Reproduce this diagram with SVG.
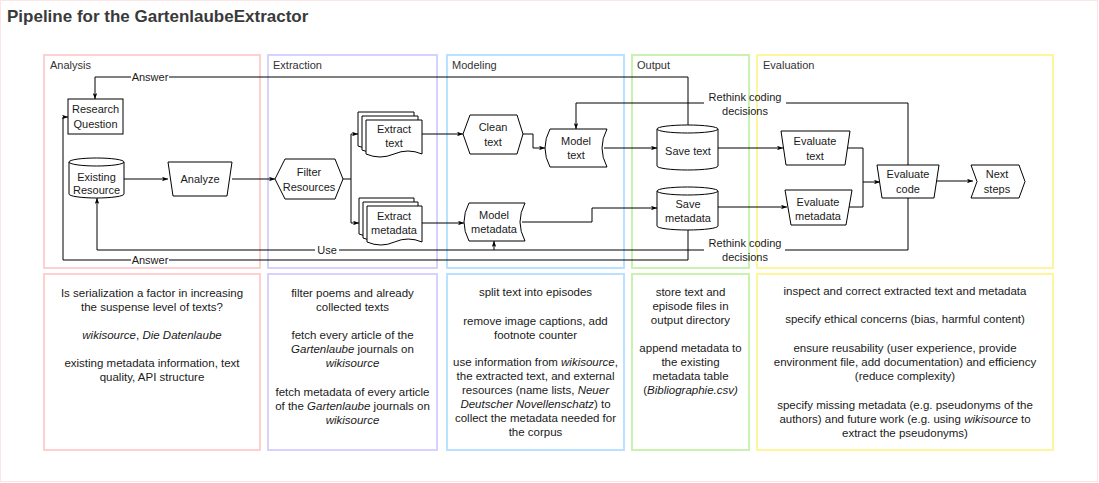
<svg xmlns="http://www.w3.org/2000/svg" width="1099" height="483" viewBox="0 0 1099 483">
<defs>
<marker id="arr" viewBox="0 0 8 6" markerWidth="6" markerHeight="4.5" refX="8" refY="3" orient="auto" markerUnits="userSpaceOnUse">
<path d="M0,0 L8,3 L0,6 L2,3 Z" fill="#000"/>
</marker>
<path id="doc56" d="M0,0 H56 V34 Q42,28 28,34 Q14,40 0,34 Z"/>
<path id="doc55" d="M0,0 H55 V36 Q41,30 27.5,36 Q14,42 0,36 Z"/>
</defs>
<style>
text{font-family:"Liberation Sans",Arial,sans-serif;fill:#1a1a1a}
.title{font-size:17px;font-weight:bold;fill:#3a3a3a}
.lane{font-size:11px;fill:#333}
.n{font-size:11px;text-anchor:middle}
.d{font-size:11.5px;text-anchor:middle}
.e{font-size:11px;text-anchor:middle}
.sh{fill:#fff;stroke:#000;stroke-width:1}
.c{fill:none;stroke:#000;stroke-width:1}
.ca{fill:none;stroke:#000;stroke-width:1;marker-end:url(#arr)}
.box{fill:none;stroke-width:2}
.lb{fill:#fff}
</style>
<rect x="0.5" y="0.5" width="1097" height="481" fill="#fff" stroke="#fbe6e6"/>
<text class="title" x="7" y="22">Pipeline for the GartenlaubeExtractor</text>

<g id="lanes">
<rect class="box" x="44" y="55" width="216" height="213" stroke="#ffd0d0"/>
<rect class="box" x="268" y="55" width="169" height="213" stroke="#d6d2ff"/>
<rect class="box" x="447" y="55" width="177" height="213" stroke="#b8e2ff"/>
<rect class="box" x="632" y="55" width="117" height="213" stroke="#c8f2ad"/>
<rect class="box" x="757" y="55" width="296" height="213" stroke="#fff59a"/>
<text class="lane" x="50" y="69">Analysis</text>
<text class="lane" x="273" y="69">Extraction</text>
<text class="lane" x="452" y="69">Modeling</text>
<text class="lane" x="637" y="69">Output</text>
<text class="lane" x="763" y="69">Evaluation</text>
</g>

<g id="connectors">
<path class="ca" d="M124,179 H168"/>
<path class="ca" d="M232,179 H275"/>
<path class="ca" d="M343,179 H351 V134 H358"/>
<path class="ca" d="M351,179 V223 H359"/>
<path class="ca" d="M422,134 H463"/>
<path class="ca" d="M523,134 H533 V148 H545"/>
<path class="ca" d="M422,223 H464"/>
<path class="ca" d="M604,148 H657"/>
<path class="ca" d="M522,222 H592 V208 H657"/>
<path class="ca" d="M718,148 H783"/>
<path class="ca" d="M718,207 H787"/>
<path class="c" d="M848,148 H863 V207 H849"/>
<path class="ca" d="M863,182 H880"/>
<path class="ca" d="M936,181 H973"/>
<path class="c" d="M908,165 V103 H786"/>
<path class="ca" d="M704,103 H576 V129"/>
<path class="c" d="M908,198 V250 H785"/>
<path class="ca" d="M704,250 H494 V241"/>
<path class="ca" d="M494,250 H97 V198"/>
<path class="ca" d="M688,125 V77 H95 V99"/>
<path class="ca" d="M688,230 V260 H63 V117 H68"/>
<rect class="lb" x="131" y="71" width="38" height="12"/>
<text class="e" x="150" y="81">Answer</text>
<rect class="lb" x="131" y="254" width="38" height="12"/>
<text class="e" x="150" y="264">Answer</text>
<rect class="lb" x="315" y="244" width="24" height="12"/>
<text class="e" x="327" y="254">Use</text>
<text class="e" x="745" y="101">Rethink coding</text>
<text class="e" x="745" y="115">decisions</text>
<text class="e" x="745" y="247">Rethink coding</text>
<text class="e" x="745" y="261">decisions</text>
</g>

<g id="research-question">
<rect class="sh" x="68" y="99" width="55" height="35"/>
<text class="n" x="95.5" y="113">Research</text>
<text class="n" x="95.5" y="128">Question</text>
</g>

<g id="existing-resource">
<path class="sh" d="M69,162 A27.5,4 0 0 1 124,162 V194 A27.5,4 0 0 1 69,194 Z"/>
<path class="c" d="M69,162 A27.5,4 0 0 0 124,162"/>
<text class="n" x="96.5" y="180.5">Existing</text>
<text class="n" x="96.5" y="194">Resource</text>
</g>

<g id="analyze">
<path class="sh" d="M168,162 H232 L227,196 H173 Z"/>
<text class="n" x="200" y="183">Analyze</text>
</g>

<g id="filter-resources">
<path class="sh" d="M275,179 L285,159 H335 L343,179 L335,199 H285 Z"/>
<text class="n" x="309" y="176">Filter</text>
<text class="n" x="309" y="190.5">Resources</text>
</g>

<g id="extract-text">
<use href="#doc56" class="sh" x="358" y="112"/>
<use href="#doc56" class="sh" x="362" y="116"/>
<use href="#doc56" class="sh" x="366" y="120"/>
<text class="n" x="394" y="133">Extract</text>
<text class="n" x="394" y="147">text</text>
</g>

<g id="extract-metadata">
<use href="#doc55" class="sh" x="359" y="198"/>
<use href="#doc55" class="sh" x="363" y="202"/>
<use href="#doc55" class="sh" x="367" y="206"/>
<text class="n" x="394" y="219.5">Extract</text>
<text class="n" x="394" y="234">metadata</text>
</g>

<g id="clean-text">
<path class="sh" d="M463,134 L470,115 H517 L523,134 L517,154 H470 Z"/>
<text class="n" x="493" y="131">Clean</text>
<text class="n" x="493" y="146">text</text>
</g>

<g id="model-text">
<path class="sh" d="M550,129 H607 Q597,148 607,167 H550 Q540,148 550,129 Z"/>
<text class="n" x="576" y="145">Model</text>
<text class="n" x="576" y="159">text</text>
</g>

<g id="model-metadata">
<path class="sh" d="M469,203 H525 Q515,222 525,241 H469 Q459,222 469,203 Z"/>
<text class="n" x="494" y="219">Model</text>
<text class="n" x="494" y="233">metadata</text>
</g>

<g id="save-text">
<path class="sh" d="M657,129 A30.5,4 0 0 1 718,129 V166 A30.5,4 0 0 1 657,166 Z"/>
<path class="c" d="M657,129 A30.5,4 0 0 0 718,129"/>
<text class="n" x="688" y="155">Save text</text>
</g>

<g id="save-metadata">
<path class="sh" d="M657,191 A30.5,4 0 0 1 718,191 V226 A30.5,4 0 0 1 657,226 Z"/>
<path class="c" d="M657,191 A30.5,4 0 0 0 718,191"/>
<text class="n" x="688" y="208">Save</text>
<text class="n" x="688" y="222">metadata</text>
</g>

<g id="evaluate-text">
<path class="sh" d="M781,131 H850 L845,165 H786 Z"/>
<text class="n" x="815" y="145">Evaluate</text>
<text class="n" x="815" y="160">text</text>
</g>

<g id="evaluate-metadata">
<path class="sh" d="M785,190 H852 L846,225 H791 Z"/>
<text class="n" x="818" y="205.5">Evaluate</text>
<text class="n" x="818" y="219.5">metadata</text>
</g>

<g id="evaluate-code">
<path class="sh" d="M877,165 H939 L934,198 H882 Z"/>
<text class="n" x="908" y="178">Evaluate</text>
<text class="n" x="908" y="193">code</text>
</g>

<g id="next-steps">
<path class="sh" d="M971,165 H1019 L1025,181.5 L1019,198 H971 L977,181.5 Z"/>
<text class="n" x="997" y="178">Next</text>
<text class="n" x="997" y="193">steps</text>
</g>

<g id="analysis-notes">
<rect class="box" x="44" y="274" width="216" height="176" stroke="#ffd0d0"/>
<text class="d" x="152" y="297">Is serialization a factor in increasing</text>
<text class="d" x="152" y="311">the suspense level of texts?</text>
<text class="d" x="152" y="339"><tspan font-style="italic">wikisource</tspan>, <tspan font-style="italic">Die Datenlaube</tspan></text>
<text class="d" x="152" y="367">existing metadata information, text</text>
<text class="d" x="152" y="381">quality, API structure</text>
</g>

<g id="extraction-notes">
<rect class="box" x="268" y="274" width="169" height="176" stroke="#d6d2ff"/>
<text class="d" x="352.5" y="297">filter poems and already</text>
<text class="d" x="352.5" y="311">collected texts</text>
<text class="d" x="352.5" y="339">fetch every article of the</text>
<text class="d" x="352.5" y="353"><tspan font-style="italic">Gartenlaube</tspan> journals on</text>
<text class="d" x="352.5" y="367" font-style="italic">wikisource</text>
<text class="d" x="352.5" y="396">fetch metadata of every article</text>
<text class="d" x="352.5" y="410">of the <tspan font-style="italic">Gartenlaube</tspan> journals on</text>
<text class="d" x="352.5" y="424" font-style="italic">wikisource</text>
</g>

<g id="modeling-notes">
<rect class="box" x="447" y="274" width="177" height="176" stroke="#b8e2ff"/>
<text class="d" x="535.5" y="296">split text into episodes</text>
<text class="d" x="535.5" y="324.5">remove image captions, add</text>
<text class="d" x="535.5" y="338.5">footnote counter</text>
<text class="d" x="535.5" y="366">use information from <tspan font-style="italic">wikisource</tspan>,</text>
<text class="d" x="535.5" y="380">the extracted text, and external</text>
<text class="d" x="535.5" y="394">resources (name lists, <tspan font-style="italic">Neuer</tspan></text>
<text class="d" x="535.5" y="408"><tspan font-style="italic">Deutscher Novellenschatz</tspan>) to</text>
<text class="d" x="535.5" y="422">collect the metadata needed for</text>
<text class="d" x="535.5" y="436">the corpus</text>
</g>

<g id="output-notes">
<rect class="box" x="632" y="274" width="117" height="176" stroke="#c8f2ad"/>
<text class="d" x="690.5" y="296">store text and</text>
<text class="d" x="690.5" y="310">episode files in</text>
<text class="d" x="690.5" y="324">output directory</text>
<text class="d" x="690.5" y="352">append metadata to</text>
<text class="d" x="690.5" y="366">the existing</text>
<text class="d" x="690.5" y="380">metadata table</text>
<text class="d" x="690.5" y="394">(<tspan font-style="italic">Bibliographie.csv)</tspan></text>
</g>

<g id="evaluation-notes">
<rect class="box" x="757" y="274" width="296" height="176" stroke="#fff59a"/>
<text class="d" x="905" y="294.5">inspect and correct extracted text and metadata</text>
<text class="d" x="905" y="323">specify ethical concerns (bias, harmful content)</text>
<text class="d" x="905" y="352">ensure reusability (user experience, provide</text>
<text class="d" x="905" y="366">environment file, add documentation) and efficiency</text>
<text class="d" x="905" y="380">(reduce complexity)</text>
<text class="d" x="905" y="408.5">specify missing metadata (e.g. pseudonyms of the</text>
<text class="d" x="905" y="422.5">authors) and future work (e.g. using <tspan font-style="italic">wikisource</tspan> to</text>
<text class="d" x="905" y="436.5">extract the pseudonyms)</text>
</g>
</svg>
